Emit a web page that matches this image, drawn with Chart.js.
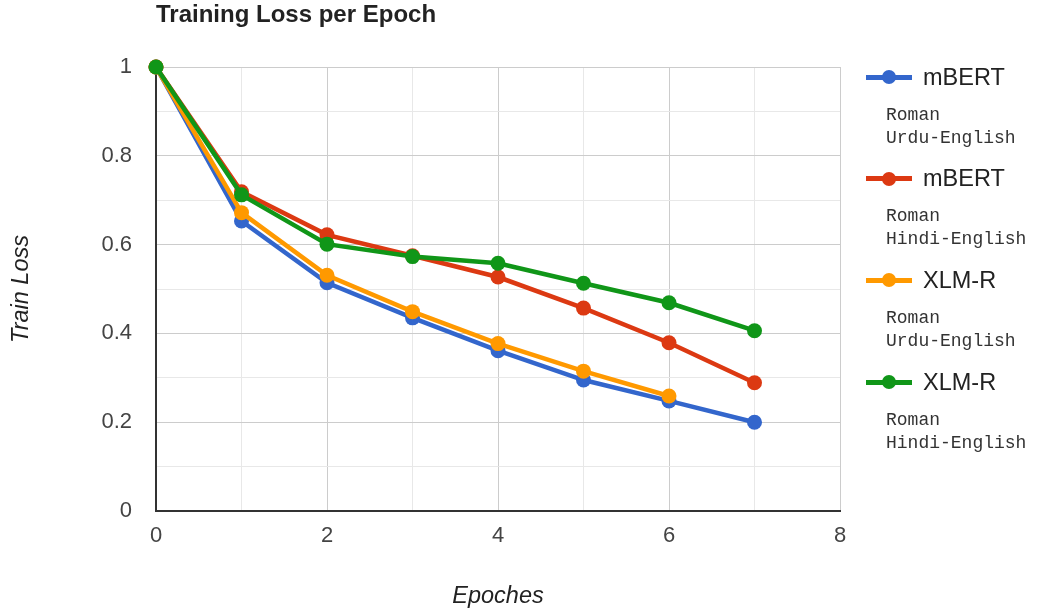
<!DOCTYPE html>
<html lang="en">
<head>
  <meta charset="UTF-8">
  <script src="https://cdn.jsdelivr.net/npm/chart.js"></script>
  <title>Training Loss per Epoch</title>
  <style>
    body { margin: 0; background: #fff; }
    #wrap { position: relative; width: 1043px; height: 616px; font-family: "Liberation Sans", Arial, sans-serif; }
    #myChart { position: absolute; left: 0; top: 0; }
    .titulo { position: absolute; left: 156px; top: 2px; font-size: 24px; line-height: 24px; font-weight: bold; color: #222; white-space: nowrap; }
    .leg-line { position: absolute; left: 866px; width: 46px; height: 5px; }
    .leg-dot { position: absolute; left: 882px; width: 14px; height: 14px; border-radius: 50%; }
    .leg-name { position: absolute; left: 923px; font-size: 23.5px; line-height: 23px; color: #222; white-space: nowrap; }
    .leg-sub { position: absolute; left: 886px; font-family: "Liberation Mono", monospace; font-size: 18px; line-height: 23px; color: #333; white-space: nowrap; }
  </style>
</head>
<body>
  <div id="wrap">
    <canvas id="myChart" width="1043" height="616"></canvas>
    <div class="titulo">Training Loss per Epoch</div>
    <div id="legenda"></div>
  </div>

<script>
// dados
const epochs = [0, 1, 2, 3, 4, 5, 6, 7];
const mbertUrdu  = [1, 0.653, 0.514, 0.435, 0.361, 0.295, 0.248, 0.200];
const mbertHindi = [1, 0.719, 0.622, 0.575, 0.527, 0.457, 0.379, 0.289];
const xlmrUrdu   = [1, 0.672, 0.531, 0.449, 0.377, 0.315, 0.259];
const xlmrHindi  = [1, 0.712, 0.601, 0.573, 0.558, 0.513, 0.469, 0.406];

const seriesNames = ['mBERT', 'mBERT', 'XLM-R', 'XLM-R'];
const seriesSubs = [
  ['Roman', 'Urdu-English'],
  ['Roman', 'Hindi-English'],
  ['Roman', 'Urdu-English'],
  ['Roman', 'Hindi-English']
];
const colors = ['#3366cc', '#dc3912', '#ff9900', '#109618'];

const yTickLabels = [0, 0.2, 0.4, 0.6, 0.8, 1];
const xTickLabels = [0, 2, 4, 6, 8];

const allSeries = [mbertUrdu, mbertHindi, xlmrUrdu, xlmrHindi];

function isLabel(list, v) {
  return list.some(t => Math.abs(t - v) < 1e-6);
}

// monta datasets
let datasets = allSeries.map(function (serie, i) {
  return {
    label: seriesNames[i] + ' ' + seriesSubs[i].join(' '),
    data: serie.map((y, k) => ({ x: epochs[k], y: y })),
    borderColor: colors[i],
    backgroundColor: colors[i],
    pointBackgroundColor: colors[i],
    pointBorderWidth: 0,
    pointRadius: 7.5,
    borderWidth: 4.5,
    tension: 0,
    clip: false,
    order: 4 - i
  };
});

const fonte = { family: '"Liberation Sans", Arial, sans-serif', size: 22 };
const fonteTitulo = { family: fonte.family, size: 23.5, style: 'italic' };

const config = {
  type: 'line',
  data: { datasets: datasets },
  options: {
    responsive: false,
    animation: false,
    devicePixelRatio: 1,
    layout: { padding: { left: 0, top: 67, right: 203, bottom: 0 } },
    plugins: { legend: { display: false }, tooltip: { enabled: false }, title: { display: false } },
    scales: {
      x: {
        type: 'linear', min: 0, max: 8,
        ticks: {
          stepSize: 1, autoSkip: false, maxRotation: 0, padding: 12, color: '#444', font: fonte,
          callback: v => isLabel(xTickLabels, v) ? String(v) : ''
        },
        grid: {
          drawTicks: false, lineWidth: 1,
          color: c => (Math.round(c.tick.value) % 2 === 0) ? '#cccccc' : '#e8e8e8'
        },
        border: { color: '#333', width: 2 },
        title: {
          display: true, text: 'Epoches', color: '#222',
          font: fonteTitulo,
          padding: { top: 0, bottom: 5 }
        },
        afterFit: s => { s.height = 105; }
      },
      y: {
        type: 'linear', min: 0, max: 1,
        ticks: {
          stepSize: 0.1, autoSkip: false, padding: 24, color: '#444', font: fonte,
          callback: v => isLabel(yTickLabels, v) ? String(Math.round(v * 10) / 10) : ''
        },
        grid: {
          drawTicks: false, lineWidth: 1,
          color: c => (Math.round(c.tick.value * 10) % 2 === 0) ? '#cccccc' : '#e8e8e8'
        },
        border: { color: '#333', width: 2 },
        title: {
          display: true, text: 'Train Loss', color: '#222',
          font: fonteTitulo,
          padding: { top: 7, bottom: 0 }
        },
        afterFit: s => { s.width = 156; }
      }
    }
  }
};

let myChart = new Chart(document.getElementById('myChart'), config);

// legenda em html
const legenda = document.getElementById('legenda');
seriesNames.forEach(function (nome, i) {
  const base = 77 + i * 101.7;
  let linha = document.createElement('div');
  linha.className = 'leg-line';
  linha.style.top = (base - 2.5) + 'px';
  linha.style.background = colors[i];
  let ponto = document.createElement('div');
  ponto.className = 'leg-dot';
  ponto.style.top = (base - 7) + 'px';
  ponto.style.background = colors[i];
  let txt = document.createElement('div');
  txt.className = 'leg-name';
  txt.style.top = (base - 11.5) + 'px';
  txt.textContent = nome;
  let sub = document.createElement('div');
  sub.className = 'leg-sub';
  sub.style.top = (base + 26.7) + 'px';
  sub.innerHTML = seriesSubs[i].join('<br>');
  legenda.appendChild(linha);
  legenda.appendChild(ponto);
  legenda.appendChild(txt);
  legenda.appendChild(sub);
});
</script>
</body>
</html>
